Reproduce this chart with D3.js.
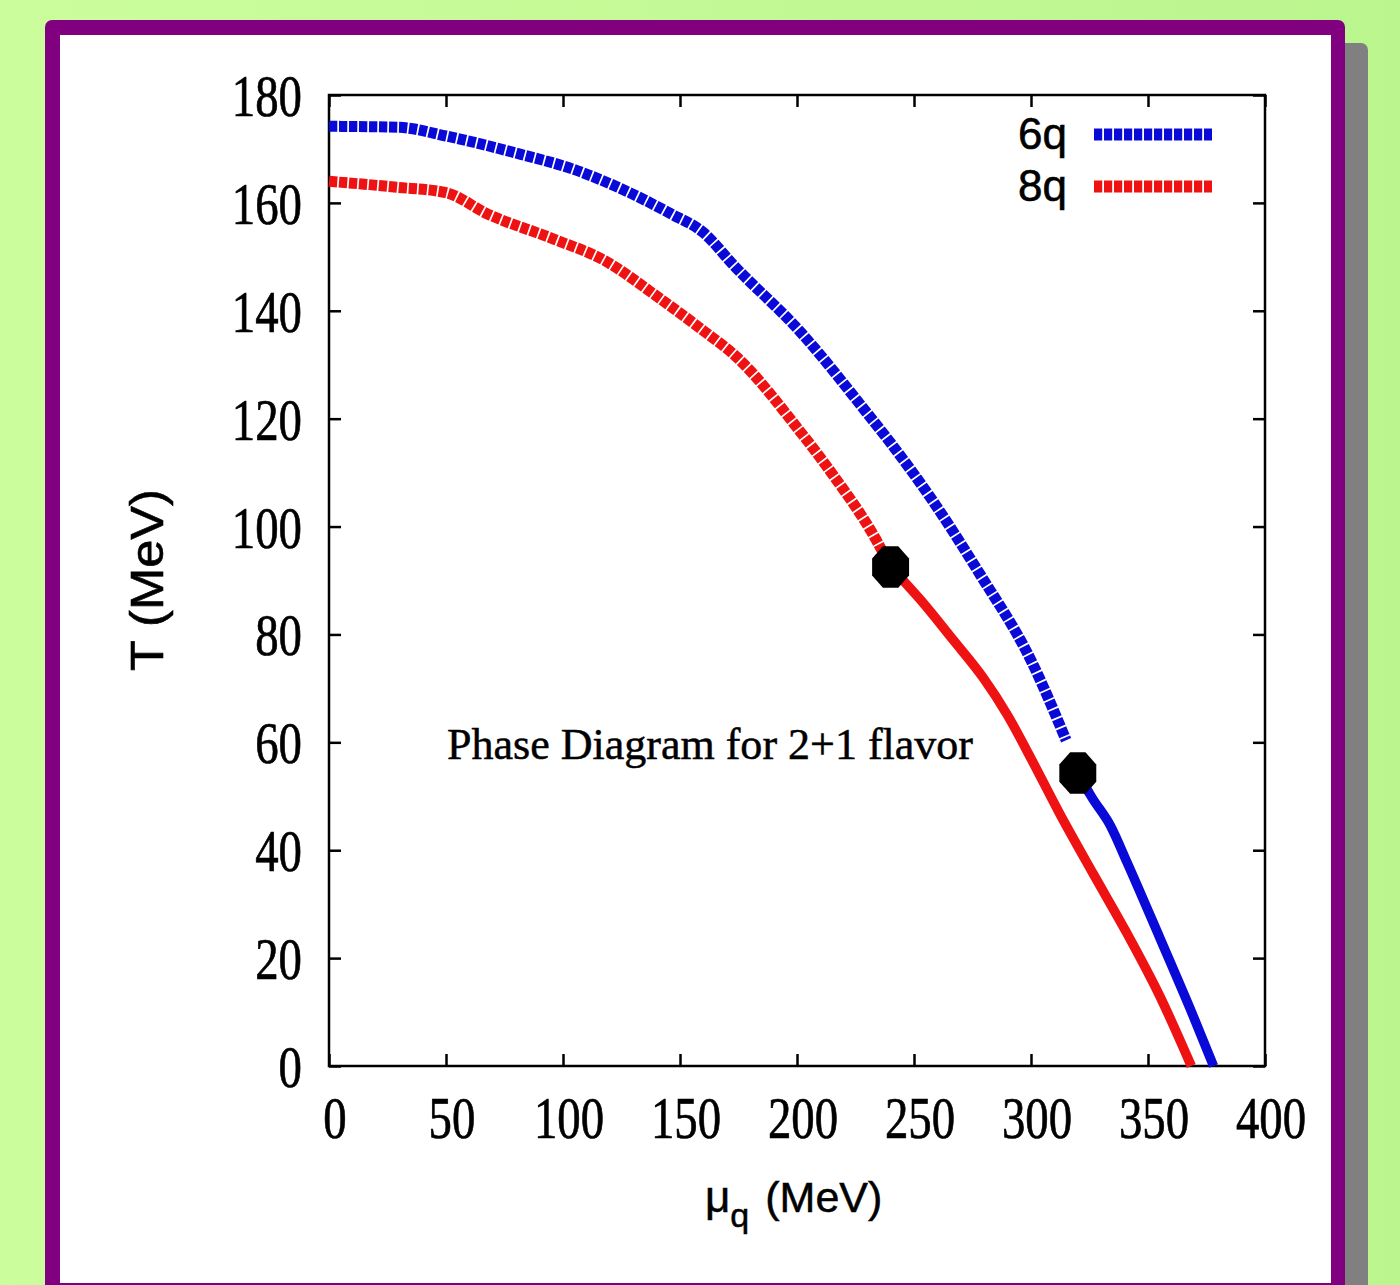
<!DOCTYPE html>
<html><head><meta charset="utf-8">
<script src="https://cdn.jsdelivr.net/npm/d3@7"></script>
<style>html,body{margin:0;padding:0;overflow:hidden;background:#c6fb9a}</style>
</head><body>
<script>
// ---------- data ----------
const xTicks = [0, 50, 100, 150, 200, 250, 300, 350, 400];
const yTicks = [0, 20, 40, 60, 80, 100, 120, 140, 160, 180];

// 6q: crossover (dotted) part and first-order (solid) part
const mu6Dotted = [0, 30, 50, 82, 104, 124, 146, 160, 173, 201, 230, 240, 257, 278, 300, 315];
const T6Dotted  = [174.2, 174, 172.4, 169, 166.3, 162.8, 158, 154.5, 148.4, 136.3, 121, 115.5, 105.4, 91.3, 75.2, 60.4];
const mu6Solid  = [320, 326, 334, 341, 355, 369, 378];
const T6Solid   = [54.3, 49.8, 44.5, 37.8, 23.8, 9.6, 0];

// 8q
const mu8Dotted = [0, 29, 50, 67.5, 96, 117, 141, 160, 174, 201, 215, 234, 240];
const T8Dotted  = [164, 162.9, 161.9, 158, 153.3, 149.5, 142.4, 136.3, 131.5, 117.8, 109.8, 97.4, 92.5];
const mu8Solid  = [240, 253, 266.7, 279.5, 290, 300, 312, 326.5, 341, 355, 368.5];
const T8Solid   = [92.5, 86.3, 79, 72, 65, 57, 47, 35.7, 24.6, 13, 0];

// critical end points
const cpMu = [240, 320];
const cpT  = [92.5, 54.3];

const seriesNames = ["6q", "8q"];
const seriesColors = ["#0a0ad8", "#ee1212"];
const annotation = "Phase Diagram for 2+1 flavor";

// ---------- layout ----------
const W = 1400, H = 1285;
const svg = d3.select("body").append("svg").attr("width", W).attr("height", H)
  .style("display", "block");

const defs = svg.append("defs");
const grad = defs.append("linearGradient").attr("id", "bg").attr("x1", 0).attr("x2", 1).attr("y1", 0).attr("y2", 0);
grad.append("stop").attr("offset", "0%").attr("stop-color", "#cbfd9d");
grad.append("stop").attr("offset", "100%").attr("stop-color", "#bbf58e");
svg.append("rect").attr("width", W).attr("height", H).attr("fill", "url(#bg)");

// shadow
svg.append("rect").attr("x", 68).attr("y", 43).attr("width", 1300).attr("height", 1300)
  .attr("rx", 7).attr("fill", "#808080");
// purple frame
svg.append("rect").attr("x", 45).attr("y", 20).attr("width", 1300).attr("height", 1278)
  .attr("rx", 7).attr("fill", "#800080");
svg.append("rect").attr("x", 60).attr("y", 35).attr("width", 1271).attr("height", 1248)
  .attr("fill", "#ffffff");

const L = 329, R = 1265, T = 95, B = 1066;
const x = d3.scaleLinear().domain([0, 400]).range([L, R]);
const y = d3.scaleLinear().domain([0, 180]).range([B, T]);

// axes with inward ticks (mirrored)
const tk = 12;
const axG = svg.append("g");
axG.append("g").attr("transform", `translate(0,${B})`)
  .call(d3.axisBottom(x).tickValues(xTicks).tickSize(-tk).tickSizeOuter(0).tickFormat(""));
axG.append("g").attr("transform", `translate(0,${T})`)
  .call(d3.axisTop(x).tickValues(xTicks).tickSize(-tk).tickSizeOuter(0).tickFormat(""));
axG.append("g").attr("transform", `translate(${L},0)`)
  .call(d3.axisLeft(y).tickValues(yTicks).tickSize(-tk).tickSizeOuter(0).tickFormat(""));
axG.append("g").attr("transform", `translate(${R},0)`)
  .call(d3.axisRight(y).tickValues(yTicks).tickSize(-tk).tickSizeOuter(0).tickFormat(""));
axG.selectAll("line").attr("stroke", "#000").attr("stroke-width", 2.5);
axG.selectAll("path.domain").attr("stroke", "none");
svg.append("rect").attr("x", L).attr("y", T).attr("width", R - L).attr("height", B - T)
  .attr("fill", "none").attr("stroke", "#000").attr("stroke-width", 2.5);

// tick labels
const serif = "'Liberation Serif','Times New Roman',serif";
const sans = "'Liberation Sans',Arial,Helvetica,sans-serif";
const digitW = 23.4;
svg.append("g").selectAll("text").data(yTicks).join("text")
  .attr("x", 302).attr("y", d => y(d) + 21)
  .attr("text-anchor", "end")
  .attr("font-family", serif).attr("font-size", 59)
  .attr("stroke", "#000").attr("stroke-width", 0.7)
  .attr("textLength", d => String(d).length * digitW).attr("lengthAdjust", "spacingAndGlyphs")
  .text(d => d);
svg.append("g").selectAll("text").data(xTicks).join("text")
  .attr("x", d => x(d) + 6).attr("y", B + 72)
  .attr("text-anchor", "middle")
  .attr("font-family", serif).attr("font-size", 59)
  .attr("stroke", "#000").attr("stroke-width", 0.7)
  .attr("textLength", d => String(d).length * digitW).attr("lengthAdjust", "spacingAndGlyphs")
  .text(d => d);

// axis titles
svg.append("text")
  .attr("transform", `translate(163,580) rotate(-90)`)
  .attr("text-anchor", "middle")
  .attr("font-family", sans).attr("font-size", 46)
  .attr("textLength", 182).attr("lengthAdjust", "spacingAndGlyphs")
  .attr("stroke", "#000").attr("stroke-width", 0.6)
  .text("T (MeV)");
const xt = svg.append("text").attr("x", 705).attr("y", 1212)
  .attr("font-family", sans).attr("fill", "#000")
  .attr("stroke", "#000").attr("stroke-width", 0.5);
xt.append("tspan").attr("font-size", 44).text("μ");
xt.append("tspan").attr("font-size", 34).attr("dy", 15).text("q");
xt.append("tspan").attr("font-size", 43).attr("dy", -15).attr("dx", 16).text("(MeV)");

// curves
const line = d3.line().x(d => x(d[0])).y(d => y(d[1])).curve(d3.curveMonotoneX);
const zip = (a, b) => a.map((v, i) => [v, b[i]]);
const dotted = { dash: "8.3,1.7", width: 11 };
const plotG = svg.append("g");
const curves = [
  { pts: zip(mu6Dotted, T6Dotted), c: 0, dotted: true },
  { pts: zip(mu8Dotted, T8Dotted), c: 1, dotted: true },
  { pts: zip(mu6Solid, T6Solid), c: 0, dotted: false },
  { pts: zip(mu8Solid, T8Solid), c: 1, dotted: false }
];
curves.forEach(cv => {
  plotG.append("path").attr("d", line(cv.pts))
    .attr("fill", "none").attr("stroke", seriesColors[cv.c])
    .attr("stroke-width", cv.dotted ? dotted.width : 9.5)
    .attr("stroke-dasharray", cv.dotted ? dotted.dash : null)
    .attr("stroke-linejoin", "round")
    .attr("stroke-linecap", "butt");
});

// critical points: octagons
const octa = (cx, cy, rx, ry) => {
  const p = [];
  for (let k = 0; k < 8; k++) {
    const a = Math.PI / 8 + k * Math.PI / 4;
    p.push([cx + rx * Math.cos(a), cy + ry * Math.sin(a)]);
  }
  return "M" + p.map(q => q.join(",")).join("L") + "Z";
};
plotG.selectAll("path.cp").data(cpMu.map((m, i) => [m, cpT[i]])).join("path")
  .attr("class", "cp")
  .attr("d", d => octa(x(d[0]), y(d[1]), 20, 22.5))
  .attr("fill", "#000");

// annotation
svg.append("text").attr("x", 447).attr("y", 759)
  .attr("font-family", serif).attr("font-size", 45)
  .attr("stroke", "#000").attr("stroke-width", 0.5)
  .attr("textLength", 526).attr("lengthAdjust", "spacingAndGlyphs")
  .text(annotation);

// legend
const lg = svg.append("g");
seriesNames.forEach((nm, i) => {
  const ly = 134.5 + i * 52;
  lg.append("text").attr("x", 1067).attr("y", ly + 14).attr("text-anchor", "end")
    .attr("font-family", sans).attr("font-size", 44)
    .attr("stroke", "#000").attr("stroke-width", 0.6)
    .text(nm);
  lg.append("line").attr("x1", 1094).attr("x2", 1212).attr("y1", ly).attr("y2", ly)
    .attr("stroke", seriesColors[i]).attr("stroke-width", 12)
    .attr("stroke-dasharray", "8.2,1.8");
});
</script>
</body></html>
